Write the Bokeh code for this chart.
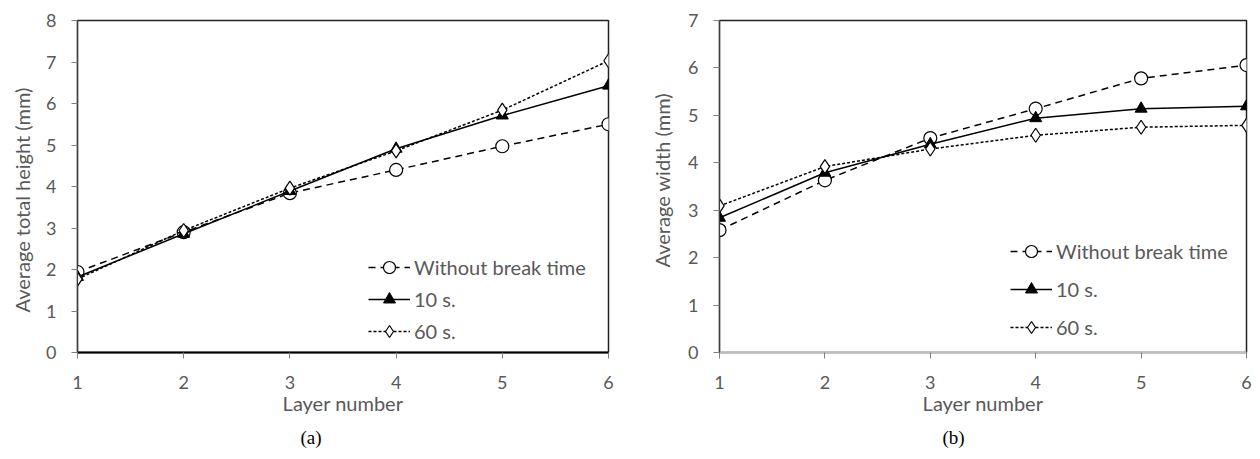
from bokeh.plotting import figure
from bokeh.layouts import row
from bokeh.models import Legend, LegendItem, FixedTicker, Range1d, Title
from bokeh.embed import file_html
from bokeh.resources import INLINE

layers = [1, 2, 3, 4, 5, 6]
series_names = ["Without break time", "10 s.", "60 s."]
height_without = [1.94, 2.90, 3.84, 4.40, 4.97, 5.50]
height_10s = [1.82, 2.86, 3.89, 4.91, 5.71, 6.43]
height_60s = [1.77, 2.94, 3.96, 4.86, 5.84, 7.03]
width_without = [2.58, 3.63, 4.52, 5.14, 5.78, 6.06]
width_10s = [2.84, 3.79, 4.39, 4.94, 5.14, 5.19]
width_60s = [3.09, 3.92, 4.29, 4.58, 4.75, 4.79]
y_ticks_a = [0, 1, 2, 3, 4, 5, 6, 7, 8]
y_ticks_b = [0, 1, 2, 3, 4, 5, 6, 7]

FONT = "Lato"
GRAY = "#595959"


def make_fig(ys, ymax, yticks, ylabel, ylabel_offset, ylabel_standoff, width, total_h, bl, br, bt,
             frame_h, xaxis_color, caption, cap_offset, legend_loc, legend_spacing):
    p = figure(width=width, height=total_h, output_backend="svg", toolbar_location=None,
               x_range=Range1d(1, 6), y_range=Range1d(0, ymax),
               min_border_left=bl, min_border_right=br, min_border_top=bt,
               min_border_bottom=total_h - bt - frame_h,
               title=caption, title_location="below")
    p.title.text_font = "Liberation Serif"
    p.title.text_font_size = "19px"
    p.title.text_font_style = "normal"
    p.title.text_color = "black"
    p.title.align = "left"
    p.title.offset = cap_offset
    p.title.standoff = 14
    p.grid.visible = False
    p.outline_line_color = "#222222"
    p.outline_line_width = 1.5
    p.background_fill_color = "white"
    p.border_fill_color = "white"

    p.xaxis.ticker = FixedTicker(ticks=layers)
    p.yaxis.ticker = FixedTicker(ticks=yticks)
    for ax in (p.xaxis[0], p.yaxis[0]):
        ax.major_label_text_font = FONT
        ax.major_label_text_font_size = "18px"
        ax.major_label_text_color = GRAY
        ax.axis_label_text_font = FONT
        ax.axis_label_text_font_style = "normal"
        ax.axis_label_text_color = GRAY
        ax.minor_tick_line_color = None
        ax.major_tick_in = 0
        ax.major_tick_out = 6
        ax.major_tick_line_color = "#7f7f7f"
    p.xaxis.axis_label_text_font_size = "20px"
    p.xaxis.axis_label = "Layer number"
    p.xaxis.axis_line_color = xaxis_color
    p.xaxis.axis_line_width = 2
    p.yaxis.axis_line_color = "#404040"
    p.yaxis.axis_line_width = 1.2
    p.xaxis.major_label_standoff = 17
    p.xaxis.axis_label_standoff = -1
    p.yaxis.major_label_standoff = 15

    ytitle = Title(text=ylabel, align="left", offset=ylabel_offset, standoff=ylabel_standoff,
                   text_font=FONT, text_font_size="20px", text_font_style="normal",
                   text_color=GRAY, vertical_align="top")
    p.add_layout(ytitle, "left")

    l1 = p.line(layers, ys[0], line_color="black", line_width=1.5, line_dash="7 5")
    s1 = p.scatter(layers, ys[0], marker="circle", size=13, fill_color="white", line_color="black", line_width=1.2)
    l2 = p.line(layers, ys[1], line_color="black", line_width=1.5)
    s2 = p.scatter(layers, ys[1], marker="triangle", size=12, fill_color="black", line_color="black")
    l3 = p.line(layers, ys[2], line_color="black", line_width=1.5, line_dash="3 2")
    s3 = p.scatter(layers, ys[2], marker="diamond", size=14, fill_color="white", line_color="black", line_width=1.2)

    legend = Legend(items=[LegendItem(label=series_names[0], renderers=[l1, s1]),
                           LegendItem(label=series_names[1], renderers=[l2, s2]),
                           LegendItem(label=series_names[2], renderers=[l3, s3])],
                    location=legend_loc, padding=0, margin=0, spacing=legend_spacing,
                    glyph_width=42, glyph_height=30, label_standoff=4,
                    label_text_font=FONT, label_text_font_size="20px", label_text_color=GRAY,
                    background_fill_alpha=0, border_line_alpha=0)
    p.add_layout(legend, "center")
    return p


pa = make_fig([height_without, height_10s, height_60s], 8, y_ticks_a, "Average total height (mm)", 40, 16,
              638, 459, 77, 30, 18, 335, "black", "(a)", 223, (291, 6), 2)
pb = make_fig([width_without, width_10s, width_60s], 7, y_ticks_b, "Average width (mm)", 85, 20,
              614, 459, 81, 6, 20, 332, "#bfbfbf", "(b)", 223, (291, 10), 8)

layout = row(pa, pb)
open("out.html", "w").write(file_html(layout, INLINE))
